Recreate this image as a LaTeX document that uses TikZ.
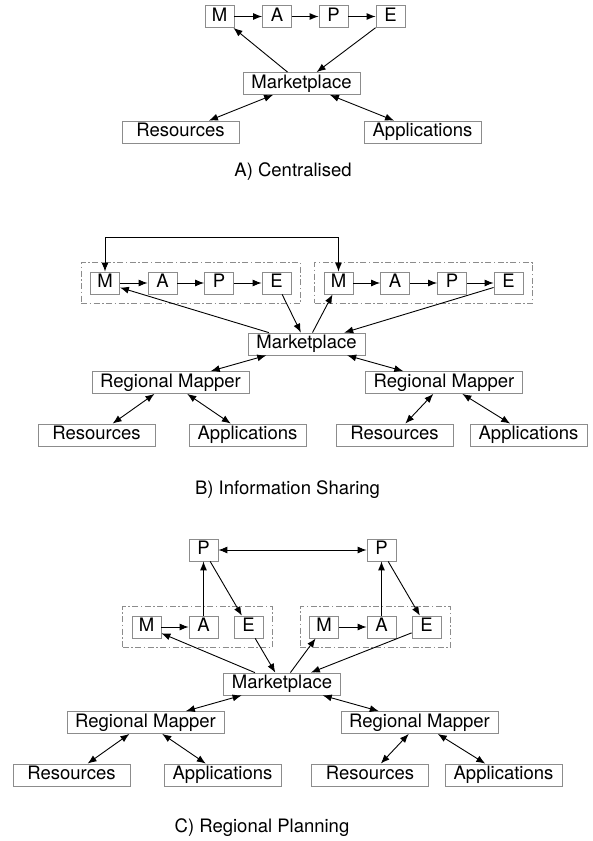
\documentclass[tikz,border=0pt]{standalone}
\usepackage{fontspec}
\setmainfont{TeX Gyre Heros}
\usetikzlibrary{arrows.meta,positioning,fit}
\tikzset{font=\fontsize{18.5}{21}\selectfont}
\tikzset{every picture/.style={line width=0.9pt}}
\tikzstyle{lbox}=[draw=black!45,line width=0.8pt,minimum width=29pt,minimum height=22pt,text height=13pt,text depth=4pt,inner xsep=2pt,inner ysep=2.5pt]
\tikzstyle{wbox}=[lbox,minimum width=117pt]
\tikzstyle{rbox}=[lbox,minimum width=157pt]
\tikzstyle{grp}=[draw=black!45,line width=0.8pt,dash pattern=on 6pt off 2.5pt on 1.5pt off 2.5pt,inner sep=9pt]
\tikzstyle{conn}=[-{Latex[length=9pt,width=7pt]}]
\tikzstyle{dconn}=[{Latex[length=9pt,width=7pt]}-{Latex[length=9pt,width=7pt]}]

\begin{document}
\begin{tikzpicture}[x=1pt,y=-1pt]
\useasboundingbox (0,0) rectangle (592,841);
% A) centralised
\node[lbox] (Ma) at (219.5,16.5) {M};
\node[lbox] (Aa) at (277,16.5) {A};
\node[lbox] (Pa) at (333.5,16.5) {P};
\node[lbox] (Ea) at (390.5,16.5) {E};
\node[wbox] (MPa) at (301.5,83.5) {Marketplace};
\node[wbox] (Ra) at (180.5,132) {Resources};
\node[wbox] (APa) at (422.5,132) {Applications};
\node (La) at (293,172) {A) Centralised};
\path[conn]
(Ma) edge (Aa)
(Aa) edge (Pa)
(Pa) edge (Ea)
(MPa) edge (Ma)
(Ea) edge (MPa);
\path[dconn]
(MPa) edge (Ra)
(MPa) edge (APa);

% B) information sharing
\node[lbox] (Mb1) at (105,283) {M};
\node[lbox] (Ab1) at (162.5,283) {A};
\node[lbox] (Pb1) at (219,283) {P};
\node[lbox] (Eb1) at (276.5,283) {E};
\node[lbox] (Mb2) at (338.5,283) {M};
\node[lbox] (Ab2) at (395,283) {A};
\node[lbox] (Pb2) at (452,283) {P};
\node[lbox] (Eb2) at (508.5,283) {E};
\node[grp,fit=(Mb1) (Eb1)] (Gb1) {};
\node[grp,fit=(Mb2) (Eb2)] (Gb2) {};
\node[wbox] (MPb) at (306.5,344) {Marketplace};
\node[rbox] (RMb1) at (170.5,382.5) {Regional Mapper};
\node[rbox] (RMb2) at (444,382.5) {Regional Mapper};
\node[wbox] (Rb1) at (96.5,435) {Resources};
\node[wbox] (APb1) at (247.5,435) {Applications};
\node[wbox] (Rb2) at (394.5,435) {Resources};
\node[wbox] (APb2) at (528.5,435) {Applications};
\node (Lb) at (287.5,490) {B) Information Sharing};
\draw[dconn] (Mb1) -- ++(0,-46) -| (Mb2);
\path[conn]
(Mb1) edge (Ab1)
(Ab1) edge (Pb1)
(Pb1) edge (Eb1)
(Mb2) edge (Ab2)
(Ab2) edge (Pb2)
(Pb2) edge (Eb2)
(MPb) edge (Mb1)
(Eb1) edge (MPb)
(MPb) edge (Mb2)
(Eb2) edge (MPb);
\path[dconn]
(MPb) edge (RMb1)
(MPb) edge (RMb2)
(RMb1) edge (Rb1)
(RMb1) edge (APb1)
(RMb2) edge (Rb2)
(RMb2) edge (APb2);

% C) regional planning
\node[lbox] (Pc1) at (203.5,550) {P};
\node[lbox] (Pc2) at (381.5,550) {P};
\node[lbox] (Mc1) at (146.5,627) {M};
\node[lbox] (Ac1) at (203.5,627) {A};
\node[lbox] (Ec1) at (248.5,627) {E};
\node[lbox] (Mc2) at (324,627) {M};
\node[lbox] (Ac2) at (381.5,627) {A};
\node[lbox] (Ec2) at (426.5,627) {E};
\node[grp,fit=(Mc1) (Ec1)] (Gc1) {};
\node[grp,fit=(Mc2) (Ec2)] (Gc2) {};
\node[wbox] (MPc) at (282,684) {Marketplace};
\node[rbox] (RMc1) at (145.5,722.5) {Regional Mapper};
\node[rbox] (RMc2) at (419.5,722.5) {Regional Mapper};
\node[wbox] (Rc1) at (71.5,775) {Resources};
\node[wbox] (APc1) at (222.5,775) {Applications};
\node[wbox] (Rc2) at (370,775) {Resources};
\node[wbox] (APc2) at (503.5,775) {Applications};
\node (Lc) at (262,828) {C) Regional Planning};
\path[conn]
(Mc1) edge (Ac1)
(Ac1) edge (Pc1)
(Pc1) edge (Ec1)
(Mc2) edge (Ac2)
(Ac2) edge (Pc2)
(Pc2) edge (Ec2)
(MPc) edge (Mc1)
(Ec1) edge (MPc)
(MPc) edge (Mc2)
(Ec2) edge (MPc);
\path[dconn]
(Pc1) edge (Pc2)
(MPc) edge (RMc1)
(MPc) edge (RMc2)
(RMc1) edge (Rc1)
(RMc1) edge (APc1)
(RMc2) edge (Rc2)
(RMc2) edge (APc2);
\end{tikzpicture}
\end{document}
